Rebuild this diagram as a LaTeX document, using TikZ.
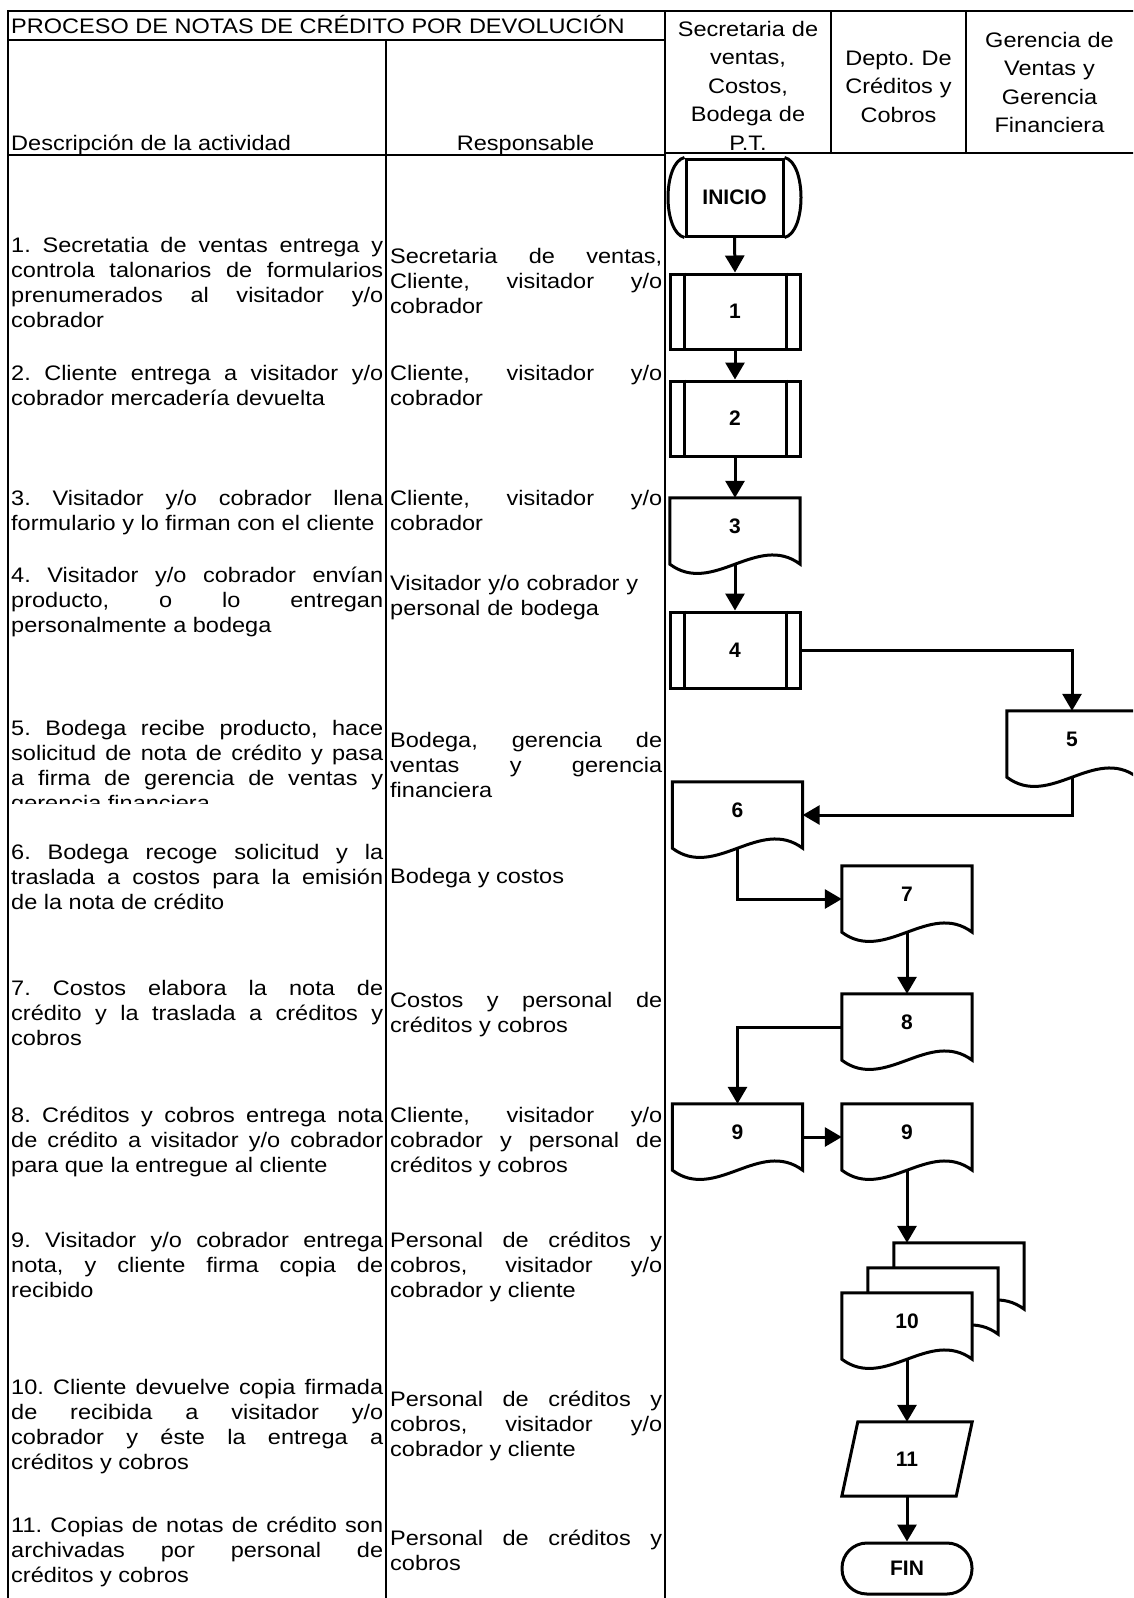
\documentclass[tikz,border=0pt]{standalone}
\usepackage{fontspec}
\setmainfont{Liberation Sans}[FakeStretch=1.12]
\newfontfamily\shapefont{Liberation Sans}
\usetikzlibrary{arrows.meta,calc}
\newcommand\docdraw[2][]{\draw[shp,#1] (#2.south west) -- (#2.north west) -- (#2.north east) -- (#2.south east) .. controls ($(#2.south east)+(-43,-32)$) and ($(#2.south west)+(43,32)$) .. (#2.south west) -- cycle;}
\newcommand\procdraw[1]{\draw[shp] ($(#1.north west)+(16,0)$) -- ($(#1.south west)+(16,0)$); \draw[shp] ($(#1.north east)+(-15,0)$) -- ($(#1.south east)+(-15,0)$);}
\begin{document}
\frenchspacing\tolerance=10000 \hbadness=10000 \hyphenpenalty=10000 \exhyphenpenalty=10000
\begin{tikzpicture}[x=1pt,y=-1pt,
  tbl/.style={line width=2pt, line cap=rect},
  shp/.style={line width=3pt, line join=miter},
  arr/.style={line width=3pt, -{Triangle[length=17pt,width=19pt]}},
  cell/.style={inner sep=0pt, anchor=base west, font=\fontsize{21}{25}\selectfont, align=justify},
  desc/.style={cell, text width=372pt},
  resp/.style={cell, text width=272pt},
  hdr/.style={inner sep=0pt, anchor=base, font=\fontsize{21}{28.6}\selectfont, align=center},
  sfont/.style={font=\shapefont\bfseries\fontsize{21}{21}\selectfont},
  pbox/.style={draw, shp, sfont, minimum width=130pt, minimum height=75pt, inner sep=0pt},
  docbox/.style={sfont, minimum width=130pt, minimum height=66pt, inner sep=0pt, text height=15pt, text depth=11pt},
]
\useasboundingbox (0,0) rectangle (1133,1598);
\clip (0,0) rectangle (1133,1598);
% table grid
\draw[tbl] (8,11) -- (1133,11);
\draw[tbl] (8,11) -- (8,1598);
\draw[tbl] (8,40) -- (665,40);
\draw[tbl] (386,40) -- (386,1598);
\draw[tbl] (665,11) -- (665,1598);
\draw[tbl] (8,155) -- (665,155);
\draw[tbl] (665,153) -- (1133,153);
\draw[tbl] (831,11) -- (831,153);
\draw[tbl] (966,11) -- (966,153);
% headers
\node[inner sep=0pt, anchor=base west, font=\fontsize{21}{21}\selectfont] (title) at (11,33) {PROCESO DE NOTAS DE CRÉDITO POR DEVOLUCIÓN};
\node[inner sep=0pt, anchor=base west, font=\fontsize{21}{21}\selectfont] (hdesc) at (11,150) {Descripción de la actividad};
\node[inner sep=0pt, anchor=base, font=\fontsize{21}{21}\selectfont] (hresp) at (525.5,150) {Responsable};
\node[hdr, text width=160pt] (h1) at (748,36) {Secretaria de\\ventas,\\Costos,\\Bodega de\\P.T.};
\node[hdr, text width=130pt] (h2) at (898.5,65) {Depto. De\\Créditos y\\Cobros};
\node[hdr, text width=160pt] (h3) at (1049.5,47) {Gerencia de\\Ventas y\\Gerencia\\Financiera};
% description column
\node[desc] (a1) at (11,252) {1. Secretatia de ventas entrega y\linebreak controla talonarios de formularios\linebreak prenumerados al visitador y/o\linebreak cobrador};
\node[desc] (a2) at (11,380) {2. Cliente entrega a visitador y/o\linebreak cobrador mercadería devuelta};
\node[desc] (a3) at (11,505) {3. Visitador y/o cobrador llena\linebreak formulario y lo firman con el cliente};
\node[desc] (a4) at (11,582) {4. Visitador y/o cobrador envían\linebreak producto, o lo entregan\linebreak personalmente a bodega};
\begin{scope}
\clip (8,700) rectangle (386,803);
\node[desc] (a5) at (11,735) {5. Bodega recibe producto, hace\linebreak solicitud de nota de crédito y pasa\linebreak a firma de gerencia de ventas y\linebreak gerencia financiera};
\end{scope}
\node[desc] (a6) at (11,859) {6. Bodega recoge solicitud y la\linebreak traslada a costos para la emisión\linebreak de la nota de crédito};
\node[desc] (a7) at (11,995) {7. Costos elabora la nota de\linebreak crédito y la traslada a créditos y\linebreak cobros};
\node[desc] (a8) at (11,1122) {8. Créditos y cobros entrega nota\linebreak de crédito a visitador y/o cobrador\linebreak para que la entregue al cliente};
\node[desc] (a9) at (11,1247) {9. Visitador y/o cobrador entrega\linebreak nota, y cliente firma copia de\linebreak recibido};
\node[desc] (a10) at (11,1394) {10. Cliente devuelve copia firmada\linebreak de recibida a visitador y/o\linebreak cobrador y éste la entrega a\linebreak créditos y cobros};
\node[desc] (a11) at (11,1532) {11. Copias de notas de crédito son\linebreak archivadas por personal de\linebreak créditos y cobros};
% responsible column
\node[resp] (r1) at (390,263) {Secretaria de ventas,\linebreak Cliente, visitador y/o\linebreak cobrador};
\node[resp] (r2) at (390,380) {Cliente, visitador y/o\linebreak cobrador};
\node[resp] (r3) at (390,505) {Cliente, visitador y/o\linebreak cobrador};
\node[resp, align=left] (r4) at (390,590) {Visitador y/o cobrador y\\personal de bodega};
\node[resp] (r5) at (390,747) {Bodega, gerencia de\linebreak ventas y gerencia\linebreak financiera};
\node[resp] (r6) at (390,883) {Bodega y costos};
\node[resp] (r7) at (390,1007) {Costos y personal de\linebreak créditos y cobros};
\node[resp] (r8) at (390,1122) {Cliente, visitador y/o\linebreak cobrador y personal de\linebreak créditos y cobros};
\node[resp] (r9) at (390,1247) {Personal de créditos y\linebreak cobros, visitador y/o\linebreak cobrador y cliente};
\node[resp] (r10) at (390,1406) {Personal de créditos y\linebreak cobros, visitador y/o\linebreak cobrador y cliente};
\node[resp] (r11) at (390,1545) {Personal de créditos y\linebreak cobros};
% flowchart
\node[draw, shp, sfont, minimum width=97pt, minimum height=77pt, inner sep=0pt] (start) at (734.5,197.5) {INICIO};
\draw[shp] (start.north east) .. controls ($(start.north east)+(22,5)$) and ($(start.south east)+(22,-5)$) .. (start.south east);
\draw[shp] (start.north west) .. controls ($(start.north west)+(-22,5)$) and ($(start.south west)+(-22,-5)$) .. (start.south west);
\node[pbox] (p1) at (735,311.5) {1}; \procdraw{p1}
\node[pbox] (p2) at (735,418.5) {2}; \procdraw{p2}
\node[docbox] (d3) at (735,531) {3}; \docdraw{d3}
\node[pbox, minimum height=76pt] (p4) at (735,650) {4}; \procdraw{p4}
\node[docbox] (d5) at (1072,744) {5}; \docdraw{d5}
\node[docbox] (d6) at (737.5,815) {6}; \docdraw{d6}
\node[docbox] (d7) at (907,899) {7}; \docdraw{d7}
\node[docbox] (d8) at (907,1027) {8}; \docdraw{d8}
\node[docbox] (d9a) at (737.5,1137) {9}; \docdraw{d9a}
\node[docbox] (d9b) at (907,1137) {9}; \docdraw{d9b}
\node[docbox] (d10c) at (959,1276) {}; \docdraw[fill=white]{d10c}
\node[docbox] (d10b) at (933,1301) {}; \docdraw[fill=white]{d10b}
\node[docbox] (d10) at (907,1326) {}; \docdraw[fill=white]{d10}
\node[docbox] (t10) at (d10) {10};
\node[sfont, minimum width=114pt, minimum height=74pt, inner sep=0pt] (p11) at (907,1459) {11};
\draw[shp] ($(p11.north west)+(8,0)$) -- ($(p11.north east)+(8,0)$) -- ($(p11.south east)+(-8,0)$) -- ($(p11.south west)+(-8,0)$) -- cycle;
\node[draw, shp, sfont, minimum width=130pt, minimum height=51pt, inner sep=0pt, rounded corners=25pt] (fin) at (907,1568.5) {FIN};
% connectors
\draw[arr] (start.south) -- (p1.north);
\draw[arr] (p1.south) -- (p2.north);
\draw[arr] (p2.south) -- (d3.north);
\draw[arr] (d3.south) -- (p4.north);
\draw[arr] (p4.east) -| (d5.north);
\draw[arr] (d5.south) |- (d6.east);
\draw[arr] (d6.south) |- (d7.west);
\draw[arr] (d7.south) -- (d8.north);
\draw[arr] (d8.west) -| (d9a.north);
\draw[arr] (d9a.east) -- (d9b.west);
\draw[arr] (d9b.south) -- (d9b.south |- d10c.north);
\draw[arr] (d10.south) -- (p11.north);
\draw[arr] (p11.south) -- (fin.north);
\end{tikzpicture}
\end{document}
